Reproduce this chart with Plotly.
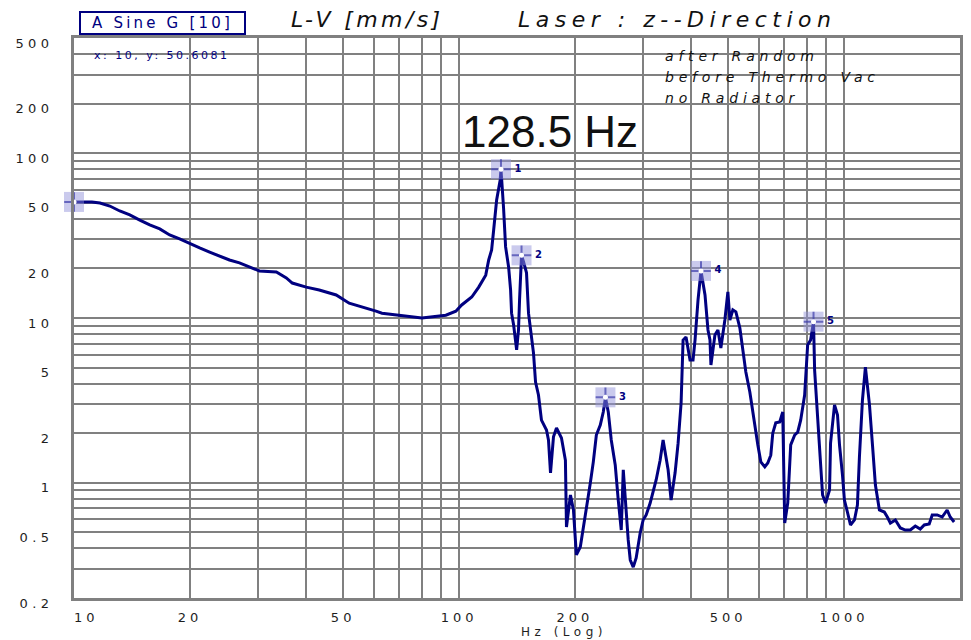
import math
import plotly.graph_objects as go

# Laser vibrometer sine sweep response, z direction
freq_hz = [
    10, 11.13, 11.68, 12.39, 13.15, 13.96, 14.82, 15.73, 16.70, 17.72,
    18.81, 19.97, 21.20, 22.50, 23.88, 25.34, 26.90, 28.55, 30.31, 33.54,
    35.60, 36.89, 40.10, 43.34, 47.96, 51.83, 56.0, 60.87, 63.08, 71.07,
    80.08, 92.4, 98.1, 101.6, 107.9, 112.5, 117.3, 119.4, 121.5, 123.0,
    125.2, 127.9, 128.5, 130.5, 132.1, 134.5, 136.1, 136.9, 138.6, 141.1,
    142.7, 143.6, 144.4, 145.3, 147.1, 149.7, 151.5, 154.3, 156.1, 158.0,
    160.8, 163.7, 168.7, 170.7, 172.8, 175.9, 179.1, 184.5, 188.9, 190.1,
    194.7, 198.2, 200.5, 201.7, 206.5, 210.3, 212.8, 216.7, 219.3, 223.2,
    227.3, 232.7, 236.9, 240.0, 244.1, 248.5, 254.5, 259.1, 263.8, 267.0,
    270.2, 275.0, 278.4, 283.4, 288.4, 295.4, 300.7, 306.2, 313.6, 319.2,
    325.0, 332.8, 338.8, 349.1, 355.4, 364.0, 370.6, 377.3, 381.8, 388.6,
    398.0, 405.2, 410.1, 417.5, 425.0, 435.3, 443.1, 448.4, 451.0, 461.9,
    470.3, 478.6, 490.2, 499.1, 505.1, 514.2, 523.6, 536.2, 545.9, 555.7,
    569.1, 579.4, 589.9, 596.9, 607.7, 622.4, 633.6, 645.1, 652.8, 664.6,
    680.6, 692.9, 701.2, 713.9, 726.7, 744.3, 757.7, 771.3, 789.9, 804.2,
    818.6, 833.0, 838.4, 848.5, 863.7, 879.3, 895.2, 916.7, 922.2, 944.5,
    961.4, 973.0, 990.6, 1002, 1020, 1039, 1064, 1083, 1096, 1116,
    1136, 1164, 1185, 1206, 1235, 1272, 1295, 1319, 1359, 1400,
    1442, 1486, 1531, 1577, 1615, 1664, 1694, 1745, 1798, 1852,
    1886, 1931,
]
vel_mm_s = [
    50.6081, 50.6, 49.9, 47.8, 44.6, 42.2, 39.3, 36.7, 34.7, 31.9,
    30.2, 28.5, 26.6, 25.1, 23.8, 22.5, 21.6, 20.4, 19.3, 19.0,
    17.5, 16.3, 15.4, 14.8, 13.8, 12.3, 11.7, 11.0, 10.7, 10.3,
    10.0, 10.4, 11.0, 12.0, 13.4, 15.4, 18.2, 22.5, 25.9, 34.2,
    52.0, 68.8, 80.0, 46.5, 27.0, 20.4, 14.8, 10.7, 9.07, 6.40,
    8.46, 12.9, 20.4, 24.0, 21.9, 18.8, 10.7, 7.35, 6.13, 4.09,
    3.41, 2.40, 2.09, 1.82, 1.15, 1.90, 2.15, 1.87, 1.37, 0.539,
    0.843, 0.684, 0.482, 0.365, 0.408, 0.532, 0.620, 0.820, 1.0, 1.34,
    1.95, 2.24, 2.69, 3.3, 2.69, 1.82, 1.28, 0.786, 0.517, 1.20,
    0.786, 0.450, 0.340, 0.308, 0.350, 0.496, 0.595, 0.638, 0.754, 0.879,
    1.04, 1.37, 1.82, 1.20, 0.786, 1.15, 1.74, 3.05, 7.35, 7.67,
    5.56, 5.56, 7.35, 12.9, 19.3, 13.8, 8.46, 7.35, 5.19, 7.88,
    8.46, 6.58, 9.72, 14.4, 9.72, 11.2, 10.9, 8.70, 6.40, 4.70,
    3.56, 2.65, 2.09, 1.70, 1.34, 1.25, 1.32, 1.47, 2.00, 2.31,
    2.34, 2.69, 0.570, 0.754, 1.70, 1.95, 2.03, 2.40, 3.41, 6.86,
    7.35, 9.5, 4.83, 3.18, 1.58, 0.843, 0.754, 0.904, 1.74, 2.97,
    2.58, 1.70, 1.11, 0.786, 0.665, 0.555, 0.595, 0.733, 1.43, 3.18,
    5.04, 2.97, 1.70, 0.97, 0.684, 0.665, 0.620, 0.570, 0.595, 0.532,
    0.517, 0.517, 0.547, 0.524, 0.555, 0.562, 0.638, 0.638, 0.620, 0.684,
    0.620, 0.578,
]

# Cursor readouts placed on the curve
cursor_freq = [10, 128.5, 145.3, 240.0, 425.0, 833.0]
cursor_vel = [50.6081, 80.0, 24.0, 3.3, 19.3, 9.5]
cursor_tag = ["", "1", "2", "3", "4", "5"]

x_label_vals = [10, 20, 50, 100, 200, 500, 1000, 2000]
x_label_text = ["10", "20", "50", "100", "200", "500", "1000", "2000"]
y_label_vals = [0.2, 0.5, 1, 2, 5, 10, 20, 50, 100, 200, 500]
y_label_text = ["0.2", "0.5", "1", "2", "5", "10", "20", "50", "100", "200", "500"]

NAVY = "#000080"
GRID = "#808080"
WIDE_FONT = "DejaVu Sans"


def wide(text, px):
    return f'<span style="letter-spacing:{px}px">{text}</span>'


def log_grid(lo, hi):
    vals = []
    decade = 10 ** math.floor(math.log10(lo))
    while decade <= hi:
        for m in range(1, 10):
            v = round(m * decade, 6)
            if lo - 1e-9 <= v <= hi + 1e-9:
                vals.append(v)
        decade *= 10
    return vals


def grid_ticks(lo, hi, label_vals, label_text, pad=None, spacing=4):
    vals = log_grid(lo, hi)
    lookup = {round(v, 6): t for v, t in zip(label_vals, label_text)}
    pad = pad or {}
    text = []
    for v in vals:
        t = lookup.get(round(v, 6), "")
        if t:
            lead, trail = pad.get(t, (0, 0))
            t = "\u00a0" * lead + t + "\u00a0" * trail
            t = wide(t, spacing)
        text.append(t)
    return vals, text


x_vals, x_text = grid_ticks(10, 2000, x_label_vals, x_label_text,
                            pad={"10": (3, 0), "2000": (0, 7)}, spacing=4)
y_vals, y_text = grid_ticks(0.2, 500, y_label_vals, y_label_text, spacing=4.4)

fig = go.Figure()

fig.add_trace(go.Scatter(
    x=freq_hz, y=vel_mm_s, mode="lines",
    line=dict(color=NAVY, width=3),
    hoverinfo="skip",
))

# Cursor symbols: pale square, crosshair and white centre
fig.add_trace(go.Scatter(
    x=cursor_freq, y=cursor_vel, mode="markers+text",
    marker=dict(symbol="square", size=20, color="rgba(150,150,220,0.5)",
                line=dict(width=0)),
    text=cursor_tag, textposition="middle right",
    textfont=dict(family=WIDE_FONT, size=10, color=NAVY, weight="bold"),
    cliponaxis=False, hoverinfo="skip",
))
fig.add_trace(go.Scatter(
    x=cursor_freq, y=cursor_vel, mode="markers",
    marker=dict(symbol="cross-thin", size=14,
                line=dict(width=2, color="rgba(60,60,170,0.7)")),
    cliponaxis=False, hoverinfo="skip",
))
fig.add_trace(go.Scatter(
    x=cursor_freq, y=cursor_vel, mode="markers",
    marker=dict(symbol="circle", size=5, color="white"),
    cliponaxis=False, hoverinfo="skip",
))

axis_common = dict(
    type="log", tickmode="array",
    showgrid=True, gridcolor=GRID, gridwidth=2,
    showline=True, linecolor=GRID, linewidth=3, mirror=True,
    ticks="outside", tickcolor="rgba(0,0,0,0)",
    zeroline=False,
    tickfont=dict(family=WIDE_FONT, size=13, color="#1e1e1e"),
)

fig.update_xaxes(
    range=[math.log10(10), math.log10(2000)],
    tickvals=x_vals, ticktext=x_text, ticklen=5,
    **axis_common,
)
fig.update_yaxes(
    range=[math.log10(0.2), math.log10(500)],
    tickvals=y_vals, ticktext=y_text, ticklen=15, ticklabelshift=5,
    **axis_common,
)

annotations = [
    dict(text=wide("L-V [mm/s]", 3.4), x=0.3307, y=1.0339,
         font=dict(family=WIDE_FONT, size=22, color="#111", style="italic")),
    dict(text=wide("Laser : z--Direction", 5.5), x=0.6805, y=1.0339,
         font=dict(family=WIDE_FONT, size=22, color="#111", style="italic")),
    dict(text=wide("A Sine G [10]", 3.2), x=0.0996, y=1.0268,
         font=dict(family=WIDE_FONT, size=15, color=NAVY),
         bordercolor=NAVY, borderwidth=2, borderpad=1,
         width=161, height=18, bgcolor="white"),
    dict(text=wide("x: 10, y: 50.6081", 2.5), x=0.0202, y=0.9696,
         xanchor="left",
         font=dict(family=WIDE_FONT, size=11, color=NAVY)),
    dict(text=wide("after Random", 4.8), x=0.6648, y=0.9679, xanchor="left",
         font=dict(family=WIDE_FONT, size=14, color="#111", style="italic")),
    dict(text=wide("before Thermo Vac", 4.8), x=0.6648, y=0.9304,
         xanchor="left",
         font=dict(family=WIDE_FONT, size=14, color="#111", style="italic")),
    dict(text=wide("no Radiator", 4.8), x=0.6648, y=0.8929, xanchor="left",
         font=dict(family=WIDE_FONT, size=14, color="#111", style="italic")),
    dict(text="128.5 Hz", x=0.5377, y=0.8339,
         font=dict(family="Liberation Sans, Arial, sans-serif", size=44,
                   color="#111")),
    dict(text=wide("Hz (Log)", 4.5), x=0.5534, y=-0.0607,
         font=dict(family=WIDE_FONT, size=12, color="#1e1e1e")),
]
for a in annotations:
    a.setdefault("xref", "paper")
    a.setdefault("yref", "paper")
    a.setdefault("showarrow", False)
    a.setdefault("xanchor", "center")
    a.setdefault("yanchor", "middle")

fig.update_layout(
    width=971, height=640,
    margin=dict(l=74, r=8, t=38, b=42),
    paper_bgcolor="white", plot_bgcolor="white",
    showlegend=False,
    annotations=annotations,
)

fig.write_html("out.html")
